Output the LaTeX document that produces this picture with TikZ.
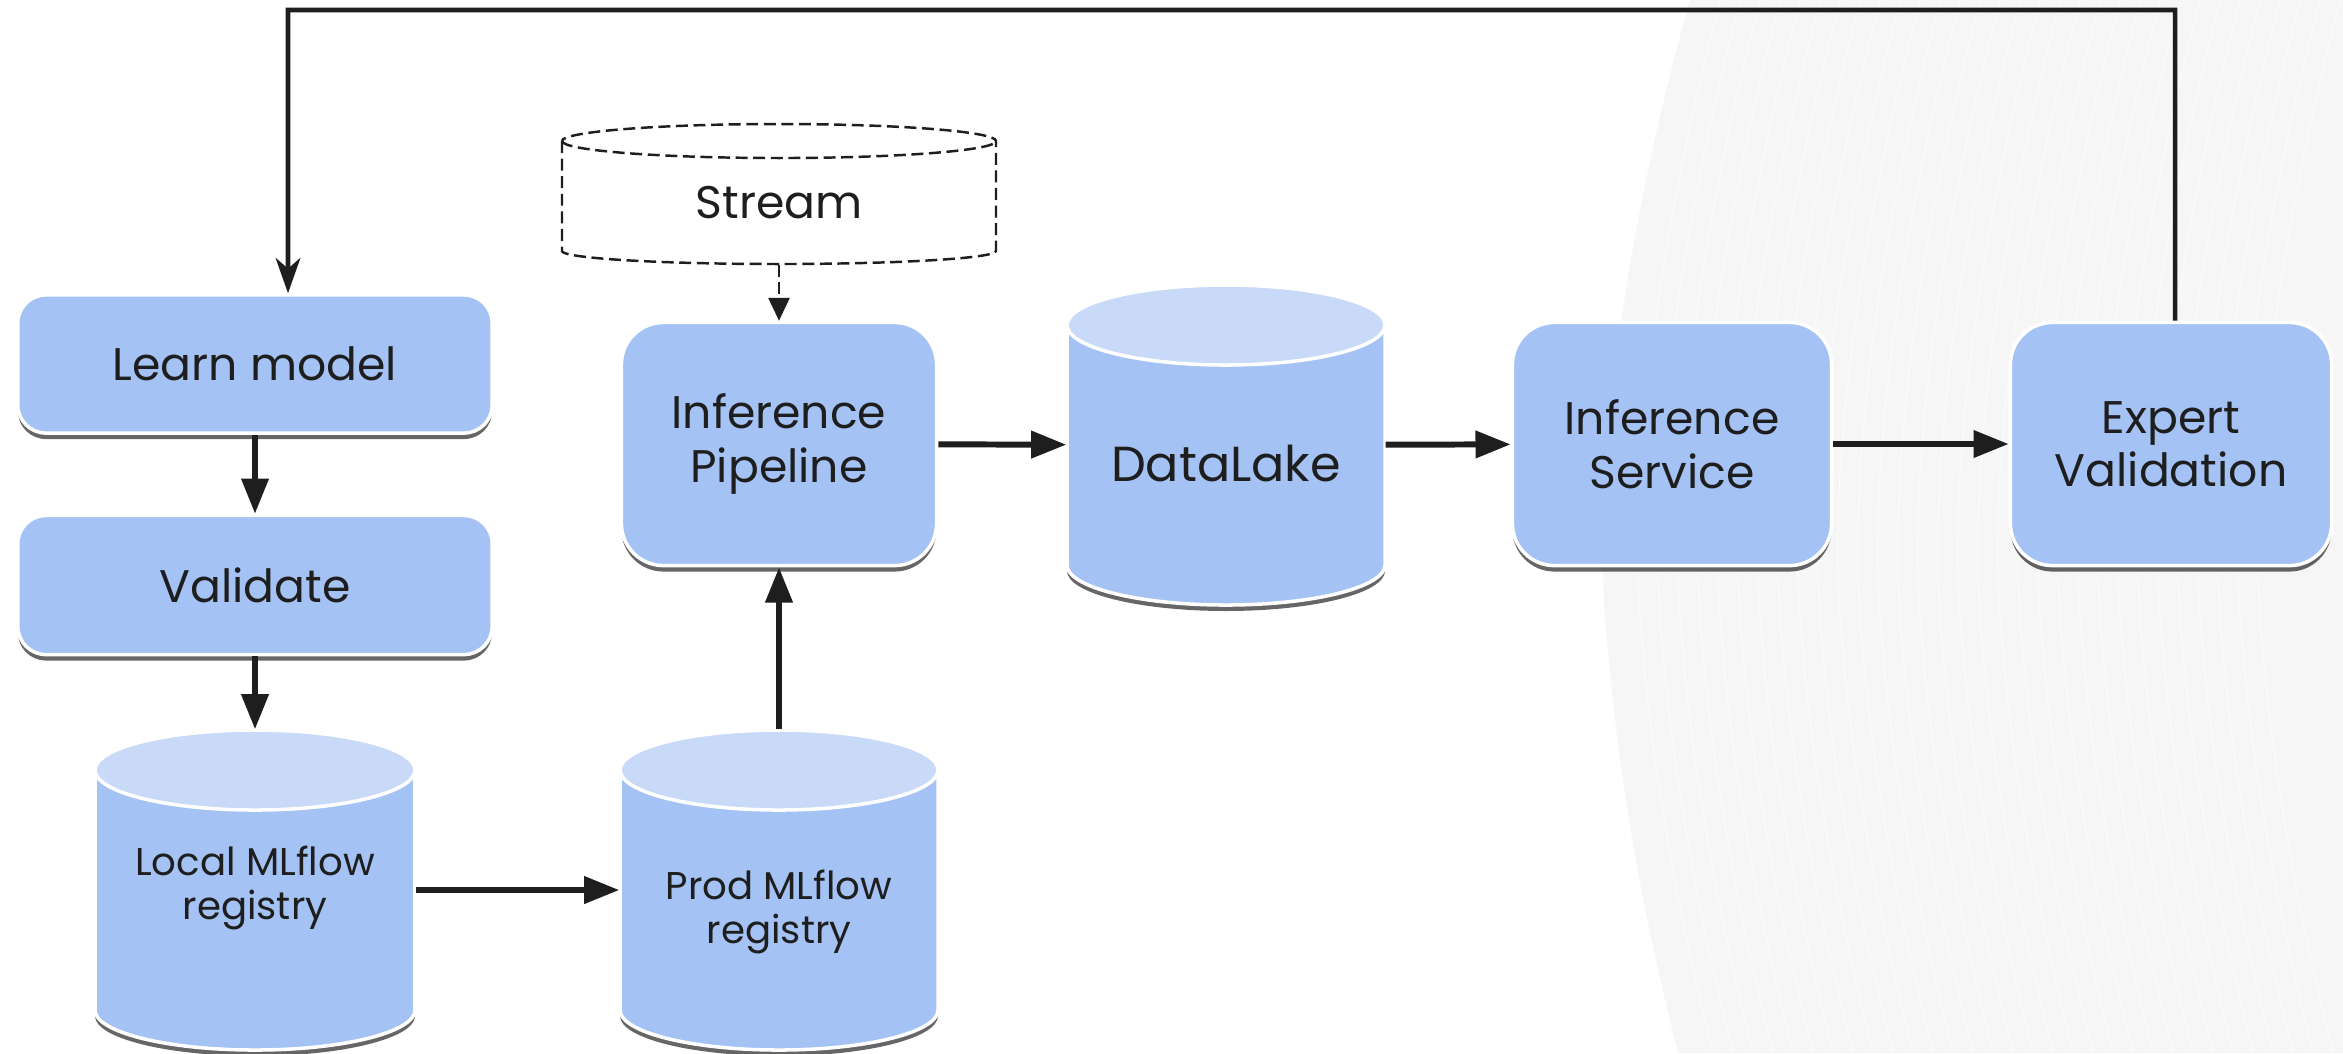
\documentclass[tikz,border=0pt]{standalone}
\usepackage{fontspec}
\setmainfont{Poppins}
\usetikzlibrary{arrows.meta,shadows}

\definecolor{boxblue}{HTML}{A4C2F4}
\definecolor{topblue}{HTML}{C9DAF8}
\definecolor{ink}{HTML}{1E1E1E}
\definecolor{wash}{HTML}{F6F6F6}
\definecolor{washline}{HTML}{FBFBFB}

\tikzset{
  boxshadow/.style={drop shadow={shadow xshift=0pt,shadow yshift=-1.7pt,opacity=.6,fill=black}},
  stepbox/.style={rectangle, fill=boxblue, draw=white, line width=1pt, boxshadow,
    text=ink, align=center, inner sep=0pt},
  cylbody/.style={fill=boxblue, draw=white, line width=1pt, boxshadow},
  cyltop/.style={fill=topblue, draw=white, line width=1pt},
  cylshape/.style={rectangle, inner sep=0pt},
  cyllabel/.style={text=ink, align=center, inner sep=0pt},
  conn/.style={draw=ink, line width=1.7pt, -{Triangle[length=10pt,width=7.5pt]}},
  dashconn/.style={draw=ink, line width=0.7pt, dash pattern=on 3.4pt off 1.6pt,
    -{Triangle[length=6.5pt,width=6pt]}},
  loopconn/.style={draw=ink, line width=1.3pt, -{Stealth[length=10pt,width=7pt,inset=3pt]}},
  bigfont/.style={font=\fontsize{13}{15.2}\selectfont},
  lakefont/.style={font=\fontsize{14}{17}\selectfont},
  smallfont/.style={font=\fontsize{11}{12.6}\selectfont},
}

% database cylinder: #1 name, #2 cx, #3 cy, #4 half width, #5 half height,
% #6 end radius, #7 label offset, #8 font style, #9 label
\newcommand{\dbcyl}[9]{%
  \path[cylbody] ({#2-#4},{#3+#5-#6}) -- ({#2-#4},{#3-#5+#6})
     arc[start angle=180,end angle=360,x radius=#4,y radius=#6]
     -- ({#2+#4},{#3+#5-#6})
     arc[start angle=0,end angle=180,x radius=#4,y radius=#6] -- cycle;
  \path[cyltop] (#2,{#3+#5-#6}) ellipse[x radius=#4,y radius=#6];
  \node[cylshape, minimum width={2*#4*0.01cm}, minimum height={2*#5*0.01cm}] (#1) at (#2,#3) {};
  \node[cyllabel,#8] (#1-label) at (#2,{#3+#7}) {#9};
}

\begin{document}
\begin{tikzpicture}[x=0.01cm,y=0.01cm]
\useasboundingbox (0,0) rectangle (2343,-1053);
\fill[white] (0,0) rectangle (2343,-1053);

% soft wash on the right side
\fill[wash] (1690,0) .. controls (1625,-230) and (1590,-480) .. (1607,-640)
  .. controls (1622,-820) and (1655,-960) .. (1678,-1053) -- (2343,-1053) -- (2343,0) -- cycle;
\foreach \k in {1,...,32}{
  \draw[washline, line width=0.35pt]
    ({1700+20*\k},0) .. controls ({1640+20*\k},-230) and ({1605+20*\k},-480) .. ({1622+20*\k},-640)
    .. controls ({1637+20*\k},-820) and ({1670+20*\k},-960) .. ({1693+20*\k},-1053);
}

% process boxes
\node[stepbox, bigfont, rounded corners=0.28cm, minimum width=4.74cm, minimum height=1.38cm]
  (learn) at (255,-364) {Learn model};
\node[stepbox, bigfont, rounded corners=0.28cm, minimum width=4.74cm, minimum height=1.39cm]
  (validate) at (255,-585) {Validate};
\node[stepbox, bigfont, rounded corners=0.42cm, minimum width=3.15cm, minimum height=2.43cm]
  (pipeline) at (779,-444) {Inference\\Pipeline};
\node[stepbox, bigfont, rounded corners=0.42cm, minimum width=3.19cm, minimum height=2.43cm]
  (service) at (1672,-444) {Inference\\Service};
\node[stepbox, bigfont, rounded corners=0.42cm, minimum width=3.21cm, minimum height=2.43cm]
  (expert) at (2171,-444) {Expert\\Validation};

% data stores
\dbcyl{local}{255}{-890}{160}{160}{40}{2}{smallfont}{Local MLflow\\registry}
\dbcyl{prod}{779}{-890}{159}{160}{40}{-22}{smallfont}{Prod MLflow\\registry}
\dbcyl{datalake}{1226}{-445}{159}{160}{40}{-18}{lakefont}{DataLake}

% incoming stream (dashed cylinder)
\path[draw=ink, line width=0.7pt, dash pattern=on 3.4pt off 1.6pt, fill=white]
  (562,-141) -- (562,-251) arc[start angle=180,end angle=360,x radius=217,y radius=13]
  -- (996,-141) arc[start angle=0,end angle=180,x radius=217,y radius=17] -- cycle;
\draw[ink, line width=0.7pt, dash pattern=on 3.4pt off 1.6pt]
  (562,-141) arc[start angle=180,end angle=360,x radius=217,y radius=17];
\node[cylshape, minimum width=4.34cm, minimum height=1.40cm] (stream) at (779,-194) {};
\node[cyllabel, bigfont] (stream-label) at (779,-203) {Stream};

% connectors
\draw[conn] (learn) -- (validate);
\draw[conn] (validate) -- (local);
\draw[conn] (local) -- (prod);
\draw[conn] (prod) -- (pipeline);
\draw[conn] (pipeline) -- (datalake);
\draw[conn] (datalake) -- (service);
\draw[conn] (service) -- (expert);
\draw[dashconn] (stream) -- (pipeline);

% feedback loop back to training
\coordinate (looptop) at (288,-10);
\draw[loopconn] ([xshift=0.04cm]expert.north) |- (looptop) -- ([xshift=0.33cm]learn.north);
\end{tikzpicture}
\end{document}
